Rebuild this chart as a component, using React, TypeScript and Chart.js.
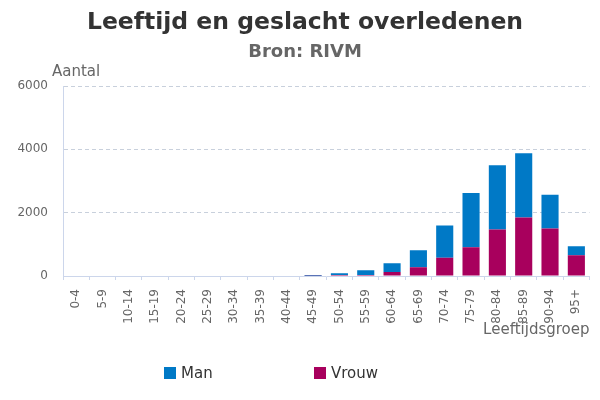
import React, { useRef, useEffect } from "react";
import { Chart, registerables } from "chart.js";

Chart.register(...registerables);

const ageGroups = [
  "0-4", "5-9", "10-14", "15-19", "20-24", "25-29", "30-34", "35-39", "40-44", "45-49",
  "50-54", "55-59", "60-64", "65-69", "70-74", "75-79", "80-84", "85-89", "90-94", "95+",
];
const manValues = [0, 0, 0, 0, 0, 0, 0, 0, 0, 22, 55, 145, 275, 532, 1021, 1719, 2031, 2031, 1062, 281];
const vrouwValues = [0, 0, 0, 0, 0, 0, 0, 0, 0, 8, 30, 35, 125, 280, 573, 906, 1469, 1844, 1500, 656];
const yTicks = [0, 2000, 4000, 6000];

const FONT = "'DejaVu Sans', sans-serif";
const MAN_COLOR = "#0079c6";
const VROUW_COLOR = "#a8005d";

// title, axis titles and the bottom legend, placed like the original
const extrasPlugin = {
  id: "extras",
  afterDraw(chart: Chart) {
    const { ctx, chartArea } = chart;
    ctx.save();
    ctx.textAlign = "center";
    ctx.textBaseline = "alphabetic";
    ctx.fillStyle = "#333333";
    ctx.font = `bold 23.5px ${FONT}`;
    ctx.fillText("Leeftijd en geslacht overledenen", 305, 29);
    ctx.fillStyle = "#666666";
    ctx.font = `bold 18px ${FONT}`;
    ctx.fillText("Bron: RIVM", 305, 57);

    ctx.font = `15px ${FONT}`;
    ctx.fillStyle = "#666666";
    ctx.textBaseline = "middle";
    ctx.textAlign = "left";
    ctx.fillText("Aantal", chartArea.left - 11, chartArea.top - 14);
    ctx.textAlign = "right";
    ctx.fillText("Leeftijdsgroep", chartArea.right, 330);

    const items = [
      { label: "Man", color: MAN_COLOR, x: 164 },
      { label: "Vrouw", color: VROUW_COLOR, x: 314 },
    ];
    ctx.textAlign = "left";
    items.forEach((it) => {
      ctx.fillStyle = it.color;
      ctx.fillRect(it.x, 367, 12, 12);
      ctx.fillStyle = "#333333";
      ctx.fillText(it.label, it.x + 17, 374);
    });
    ctx.restore();
  },
};

const App: React.FC = () => {
  const chartRef = useRef<HTMLCanvasElement | null>(null);
  const chartInstanceRef = useRef<Chart | null>(null);

  useEffect(() => {
    if (!chartRef.current) return;
    const ctx = chartRef.current.getContext("2d");
    if (!ctx) return;

    chartInstanceRef.current = new Chart(ctx, {
      type: "bar",
      data: {
        labels: ageGroups,
        datasets: [
          {
            label: "Vrouw",
            data: vrouwValues,
            backgroundColor: VROUW_COLOR,
            barPercentage: 1,
            categoryPercentage: 0.65,
          },
          {
            label: "Man",
            data: manValues,
            backgroundColor: MAN_COLOR,
            barPercentage: 1,
            categoryPercentage: 0.65,
          },
        ],
      },
      options: {
        animation: false,
        responsive: true,
        maintainAspectRatio: false,
        layout: { padding: { left: 0, right: 10, top: 86, bottom: 60 } },
        scales: {
          x: {
            stacked: true,
            afterFit: (scale: any) => {
              scale.height = 64;
            },
            grid: {
              offset: true,
              drawOnChartArea: false,
              drawTicks: true,
              tickLength: 4,
              color: "#ccd6eb",
            },
            border: { color: "#ccd6eb", width: 1 },
            ticks: {
              minRotation: 90,
              maxRotation: 90,
              autoSkip: false,
              padding: 9,
              color: "#666666",
              font: { family: FONT, size: 12 },
            },
          },
          y: {
            stacked: true,
            min: 0,
            max: 6000,
            afterFit: (scale: any) => {
              scale.width = 63;
            },
            afterBuildTicks: (scale: any) => {
              scale.ticks = yTicks.map((v) => ({ value: v }));
            },
            grid: {
              drawTicks: false,
              color: (c: any) => (c.tick && c.tick.value === 0 ? "rgba(0,0,0,0)" : "#c8d0dc"),
            },
            border: { color: "#ccd6eb", width: 1, dash: [4, 3] },
            ticks: {
              padding: 15,
              color: "#666666",
              font: { family: FONT, size: 12 },
              callback: (v: any) => String(v),
            },
          },
        },
        plugins: {
          legend: { display: false },
          tooltip: { enabled: false },
          title: { display: false },
        },
      },
      plugins: [extrasPlugin],
    });

    return () => {
      if (chartInstanceRef.current) {
        chartInstanceRef.current.destroy();
      }
    };
  }, []);

  return (
    <div style={{ position: "absolute", left: 0, top: 0, width: 600, height: 400, background: "#fff" }}>
      <canvas ref={chartRef}></canvas>
    </div>
  );
};

export default App;
